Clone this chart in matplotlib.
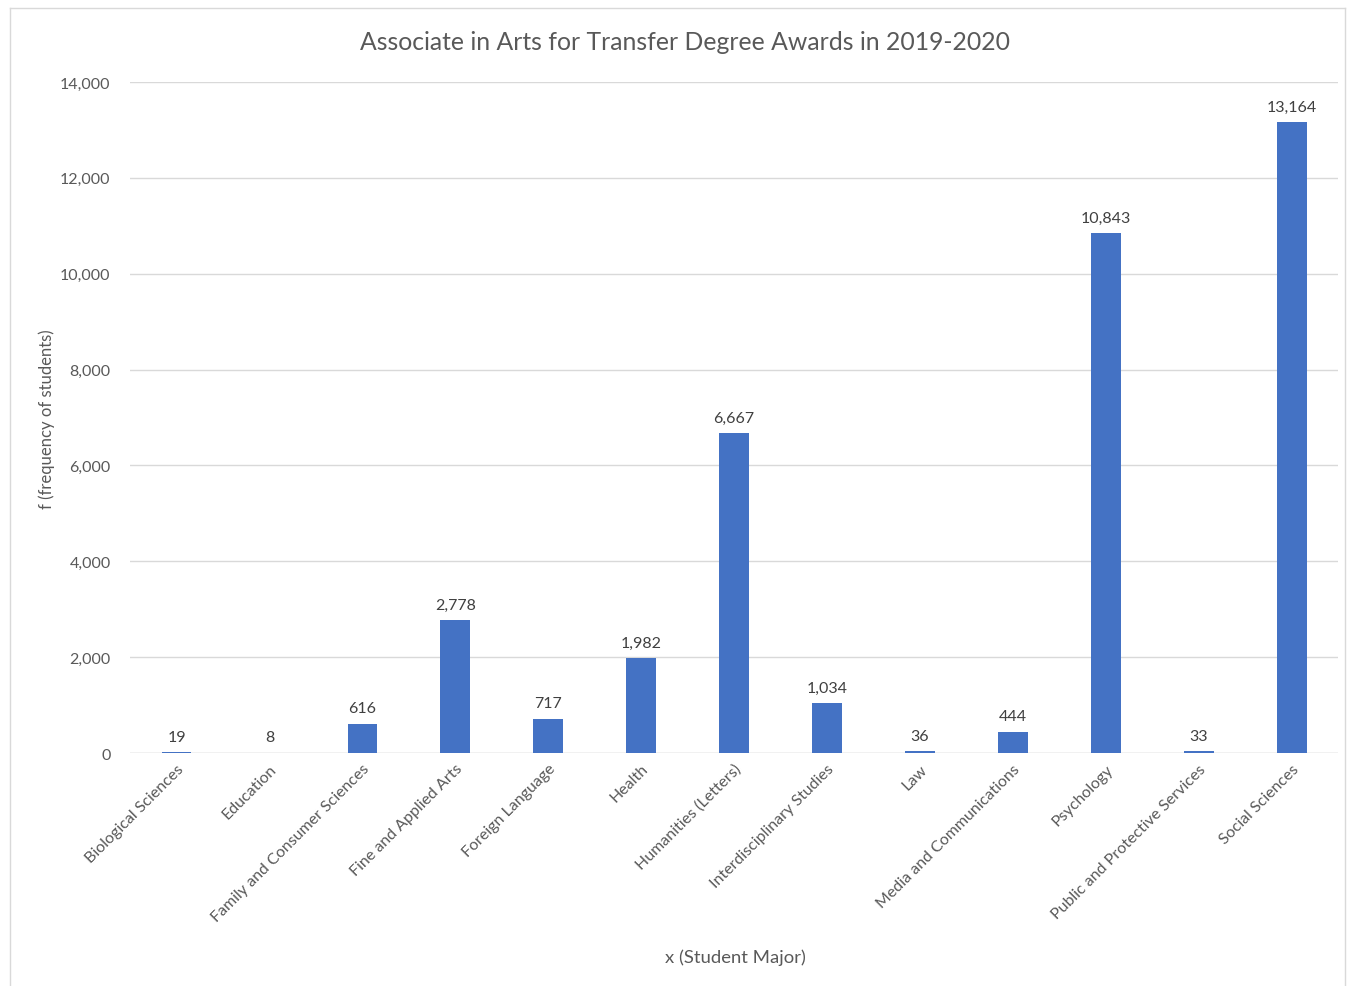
import matplotlib.pyplot as plt
from matplotlib.lines import Line2D

plt.rcParams['font.family'] = ['Lato', 'DejaVu Sans']

majors = ['Biological Sciences', 'Education', 'Family and Consumer Sciences',
          'Fine and Applied Arts', 'Foreign Language', 'Health',
          'Humanities (Letters)', 'Interdisciplinary Studies', 'Law',
          'Media and Communications', 'Psychology',
          'Public and Protective Services', 'Social Sciences']
awards = [19, 8, 616, 2778, 717, 1982, 6667, 1034, 36, 444, 10843, 33, 13164]

text_color = '#595959'
bar_color = '#4472C4'

fig = plt.figure(figsize=(13.49, 9.87), dpi=100)
ax = fig.add_axes([0.0964, 0.236, 0.8956, 0.68])

x = list(range(len(majors)))
ax.bar(x, awards, width=0.32, color=bar_color, zorder=3)
for xi, v in zip(x, awards):
    ax.annotate(f'{v:,}', (xi, v), xytext=(0, 6), textcoords='offset points',
                ha='center', va='bottom', fontsize=11.5, color='#404040')

ax.set_xlim(-0.5, len(majors) - 0.5)
ax.set_ylim(0, 14000)
ax.set_yticks(range(0, 14001, 2000))
ax.set_yticklabels([f'{t:,}' for t in range(0, 14001, 2000)])
ax.yaxis.grid(True, color='#D9D9D9', linewidth=1, zorder=0)
for s in ax.spines.values():
    s.set_visible(False)
ax.tick_params(axis='y', length=0, pad=14, labelsize=11.5, labelcolor=text_color)
ax.tick_params(axis='x', length=0, pad=6, labelsize=11.5, labelcolor=text_color)
ax.set_xticks(x)
ax.set_xticklabels(majors, rotation=45, ha='right', va='top', rotation_mode='anchor')
ax.axhline(0, color='#D9D9D9', linewidth=1, zorder=2)

fig.text(0.508, 1 - 42 / 987, 'Associate in Arts for Transfer Degree Awards in 2019-2020',
         ha='center', va='center', fontsize=17.8, color=text_color)
fig.text(0.0348, 0.575, 'f (frequency of students)', rotation=90, ha='center', va='center',
         fontsize=12, color=text_color)
fig.text(0.545, 0.030, 'x (Student Major)', ha='center', va='center',
         fontsize=13.3, color=text_color)

# chart frame
fx0, fx1, fy1 = 10 / 1349, 1345 / 1349, 1 - 9 / 987
for xs, ys in [([fx0, fx0], [0, fy1]), ([fx0, fx1], [fy1, fy1]), ([fx1, fx1], [fy1, 0])]:
    fig.add_artist(Line2D(xs, ys, transform=fig.transFigure, color='#D9D9D9', linewidth=1))

fig.savefig('out.png', dpi=100, facecolor='white')
